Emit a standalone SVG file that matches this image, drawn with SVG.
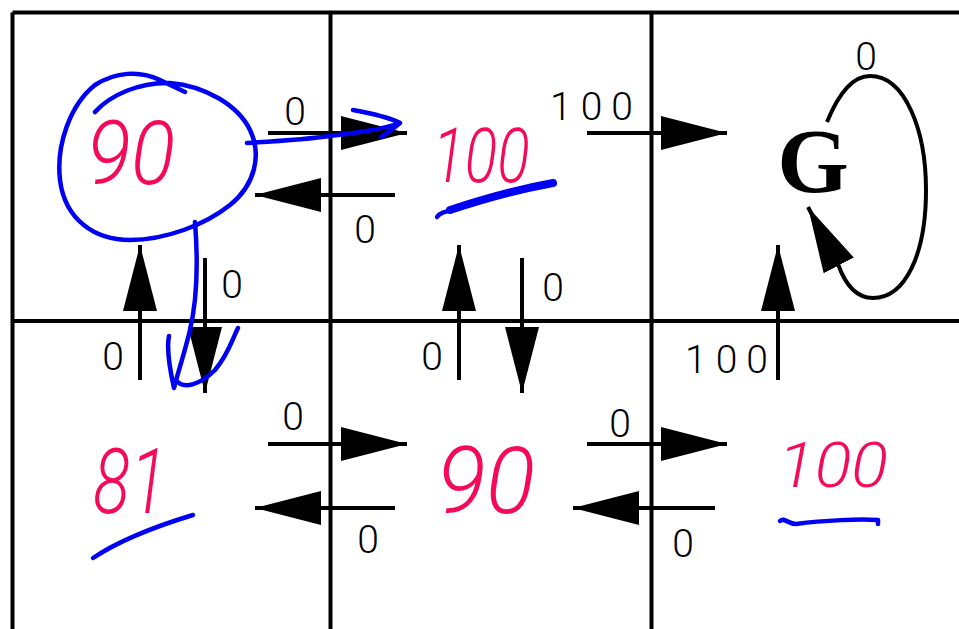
<svg xmlns="http://www.w3.org/2000/svg" width="959" height="629" viewBox="0 0 959 629">
<style>
.grid{stroke:#000;stroke-width:4;fill:none}
.arr{stroke:#000;stroke-width:4;fill:none;marker-end:url(#ah)}
.lbl{font-family:Roboto,"Liberation Sans",sans-serif;font-weight:300;font-size:39px;fill:#000;text-anchor:middle}
.wide{letter-spacing:9px}
.hw{font-family:Roboto,"Open Sans","DejaVu Sans",sans-serif;font-weight:300;font-style:italic;fill:#f50a5a;text-anchor:middle}
.ink{stroke:#0000f2;stroke-width:4.5;fill:none;stroke-linecap:round;stroke-linejoin:round}
</style>
<defs>
<marker id="ah" markerUnits="userSpaceOnUse" markerWidth="66" markerHeight="34" refX="66" refY="17" orient="auto" viewBox="0 0 66 34">
<path d="M0,0 L66,17 L0,34 Z" fill="#000"/>
</marker>
</defs>
<rect width="959" height="629" fill="#fff"/>
<g id="grid">
<line class="grid" x1="12.5" y1="12.5" x2="959" y2="12.5"/>
<line class="grid" x1="12.5" y1="321" x2="959" y2="321"/>
<line class="grid" x1="12.5" y1="12.5" x2="12.5" y2="629"/>
<line class="grid" x1="330.5" y1="12.5" x2="330.5" y2="629"/>
<line class="grid" x1="651.5" y1="12.5" x2="651.5" y2="629"/>
</g>
<g id="connectors">
<line class="arr" x1="268" y1="133" x2="407" y2="133"/>
<line class="arr" x1="395" y1="195" x2="255" y2="195"/>
<line class="arr" x1="587" y1="133" x2="727" y2="133"/>
<line class="arr" x1="268" y1="444" x2="407" y2="444"/>
<line class="arr" x1="395" y1="508" x2="255" y2="508"/>
<line class="arr" x1="587" y1="444" x2="727" y2="444"/>
<line class="arr" x1="715" y1="508" x2="573" y2="508"/>
<line class="arr" x1="140" y1="380" x2="140" y2="245"/>
<line class="arr" x1="205" y1="258" x2="205" y2="393"/>
<line class="arr" x1="459" y1="380" x2="459" y2="245"/>
<line class="arr" x1="522" y1="258" x2="522" y2="393"/>
<line class="arr" x1="778" y1="380" x2="778" y2="245"/>
<path class="arr" d="M827,122 C840,90 855,76 870,76 C905,76 926,130 926,190 C926,255 905,298 873,298 C856,298 845,284 838,264 L808,207"/>
<text class="lbl" x="295" y="125">0</text>
<text class="lbl" x="365" y="243">0</text>
<text class="lbl wide" x="596" y="120">100</text>
<text class="lbl" x="293" y="430">0</text>
<text class="lbl" x="368" y="553">0</text>
<text class="lbl" x="620" y="437">0</text>
<text class="lbl" x="683" y="557">0</text>
<text class="lbl" x="113" y="370">0</text>
<text class="lbl" x="232" y="298">0</text>
<text class="lbl" x="432" y="370">0</text>
<text class="lbl" x="553" y="301">0</text>
<text class="lbl wide" x="731" y="373">100</text>
<text class="lbl" x="866" y="70">0</text>
</g>
<g id="s1">
<text class="hw" x="131" y="184" font-size="88" textLength="88" lengthAdjust="spacingAndGlyphs">90</text>
<path class="ink" d="M95,112 C110,95 140,82 170,83 C205,86 238,105 250,130 C262,155 255,185 230,205 C205,225 165,240 130,240 C95,240 65,220 60,180 C56,145 70,105 95,85 C115,72 140,70 160,80 L185,92"/>
<path class="ink" d="M247,143 C280,141 310,139 330,136 C355,133 380,130 400,123 C390,118 370,113 353,110 M400,123 C392,130 386,134 381,137"/>
<path class="ink" d="M195,222 C198,260 197,300 190,330 C184,355 178,372 174,388 C170,370 166,350 169,336 M176,380 C183,390 200,385 215,370 C228,355 232,340 238,328"/>
</g>
<g id="s2">
<text class="hw" x="481" y="182" font-size="76" textLength="97" lengthAdjust="spacingAndGlyphs">100</text>
<path class="ink" d="M437,217 C440,213 445,211 452,211"/>
<path class="ink" style="stroke-width:8" d="M450,210 C480,200 520,189 553,183"/>
</g>
<g id="s3">
<text x="813" y="192" font-family="'Liberation Serif','Times New Roman',serif" font-weight="bold" font-size="92" text-anchor="middle">G</text>
</g>
<g id="s4">
<text class="hw" x="130" y="513" font-size="90" textLength="74" lengthAdjust="spacingAndGlyphs">81</text>
<path class="ink" d="M93,558 C120,540 160,525 193,515"/>
</g>
<g id="s5">
<text class="hw" x="486" y="513" font-size="92" textLength="98" lengthAdjust="spacingAndGlyphs">90</text>
</g>
<g id="s6">
<text class="hw" x="833" y="487" font-size="62" textLength="110" lengthAdjust="spacingAndGlyphs">100</text>
<path class="ink" d="M780,521 C784,517 788,524 796,524 C825,520 860,519 878,520 L878,524"/>
</g>
</svg>
